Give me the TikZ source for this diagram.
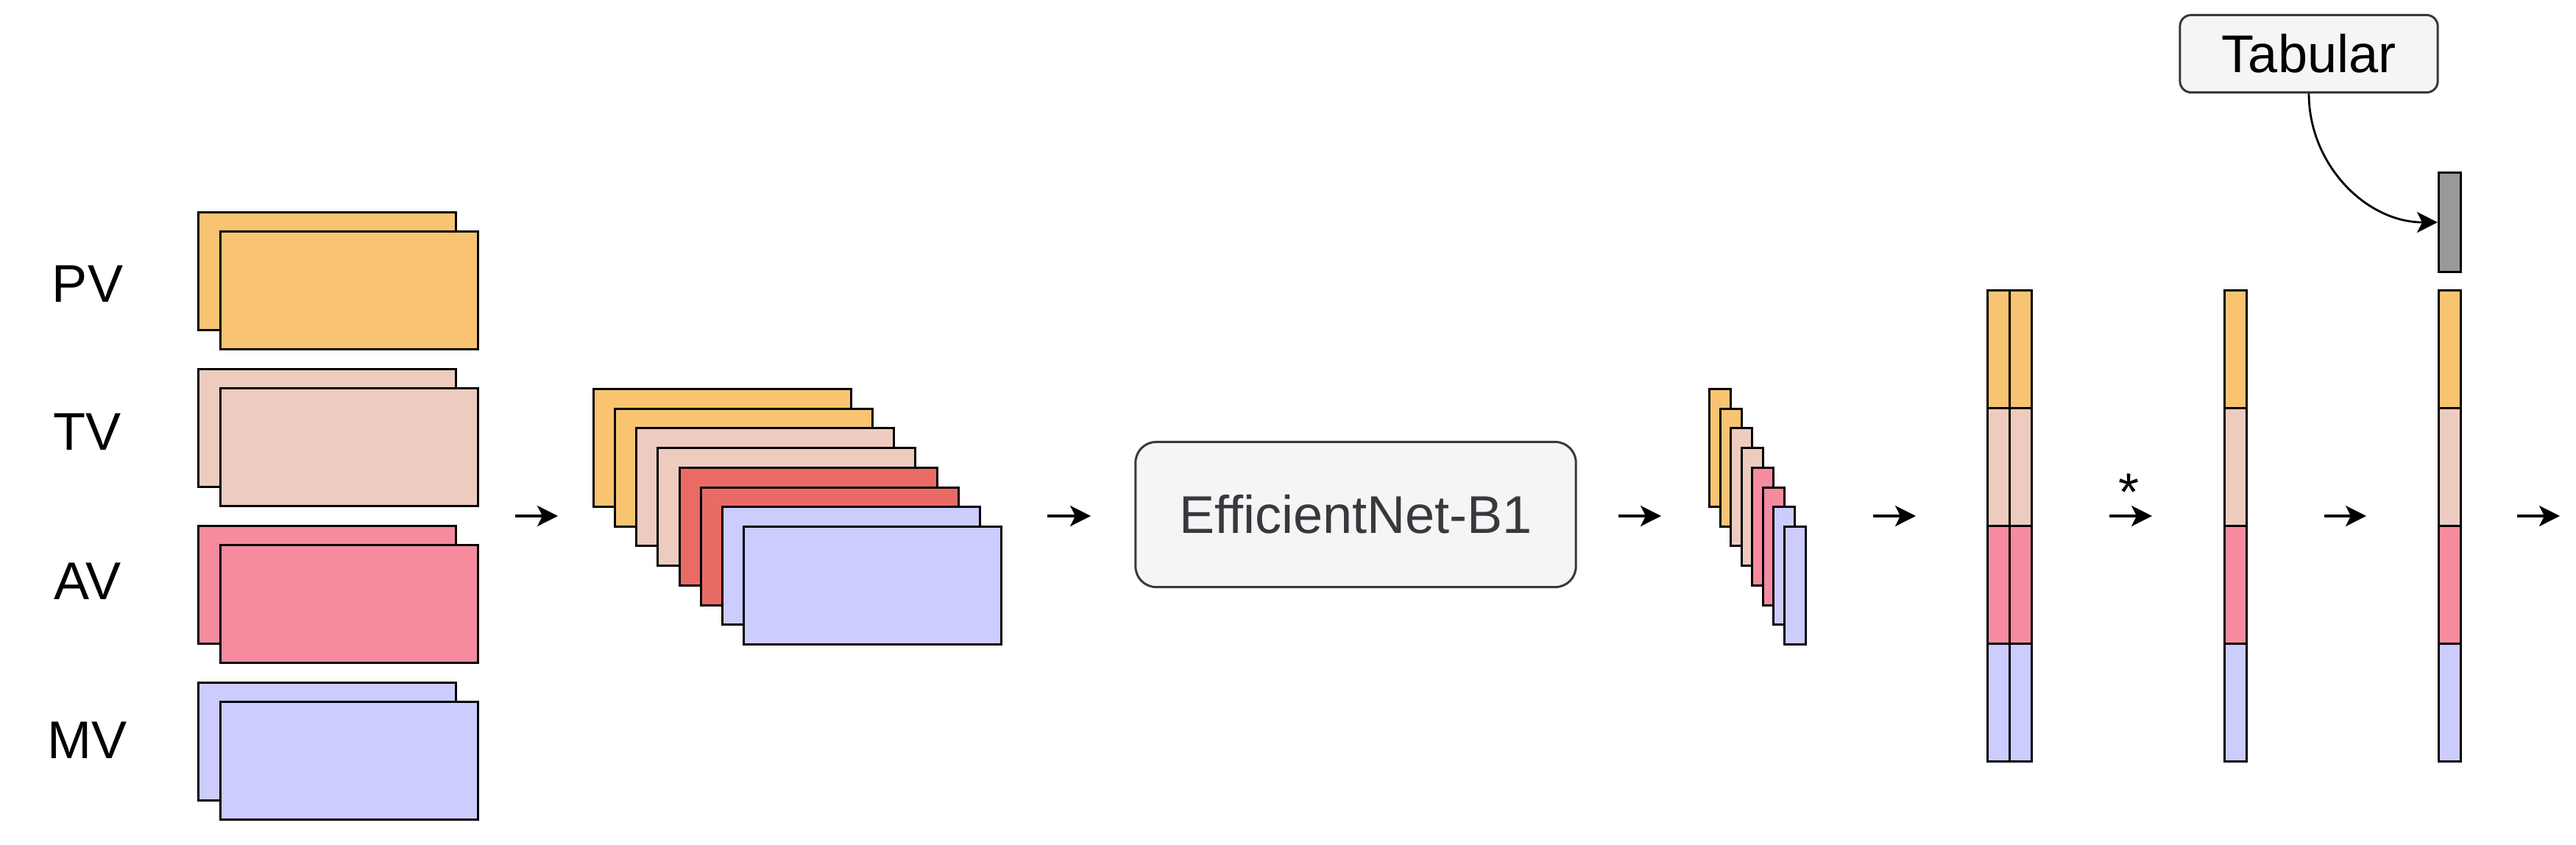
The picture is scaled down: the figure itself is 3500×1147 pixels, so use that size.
\documentclass[tikz,border=0pt]{standalone}
\usepackage{fontspec}
\setmainfont{Liberation Sans}
\usetikzlibrary{arrows.meta}

\definecolor{viewOrange}{HTML}{F8C471}
\definecolor{viewPeach}{HTML}{EDCCBF}
\definecolor{viewPink}{HTML}{F68BA0}
\definecolor{viewRed}{HTML}{EA6B66}
\definecolor{viewBlue}{HTML}{CCCCFF}
\definecolor{tabGray}{HTML}{999999}
\definecolor{boxFill}{HTML}{F5F5F5}
\definecolor{boxLine}{HTML}{36393D}

\begin{document}
\begin{tikzpicture}[
    x=0.01cm, y=-0.01cm,
    viewname/.style={font=\fontsize{20.5}{24}\selectfont, inner sep=0pt},
    view/.style={rectangle, draw, line width=0.85pt, anchor=north west, inner sep=0pt, minimum width=3.5cm, minimum height=1.6cm},
    feat/.style={view, minimum width=0.29cm},
    cell/.style={view, minimum width=0.3cm},
    block/.style={rectangle, draw=boxLine, fill=boxFill, line width=0.85pt, font=\fontsize{20.5}{24}\selectfont},
    arrow/.style={-{Stealth[length=0.28cm, width=0.28cm, inset=0.07cm]}, line width=1pt}
]
\useasboundingbox (0,0) rectangle (3500,1147);

% input views
\node[view, fill=viewOrange] (pv1) at (268,287) {};
\node[view, fill=viewOrange] (pv2) at (298,313) {};
\node[view, fill=viewPeach] (tv1) at (268,500) {};
\node[view, fill=viewPeach] (tv2) at (298,526) {};
\node[view, fill=viewPink] (av1) at (268,713) {};
\node[view, fill=viewPink] (av2) at (298,739) {};
\node[view, fill=viewBlue] (mv1) at (268,926) {};
\node[view, fill=viewBlue] (mv2) at (298,952) {};

\node[viewname] (pvname) at (119,386) {PV};
\node[viewname] (tvname) at (119,587) {TV};
\node[viewname] (avname) at (119,790) {AV};
\node[viewname] (mvname) at (119,1006) {MV};

% stacked input
\node[view, fill=viewOrange] (stk1) at (805,527) {};
\node[view, fill=viewOrange] (stk2) at (834,554) {};
\node[view, fill=viewPeach] (stk3) at (863,580) {};
\node[view, fill=viewPeach] (stk4) at (892,607) {};
\node[view, fill=viewRed] (stk5) at (922,634) {};
\node[view, fill=viewRed] (stk6) at (951,661) {};
\node[view, fill=viewBlue] (stk7) at (980,687) {};
\node[view, fill=viewBlue] (stk8) at (1009,714) {};

% backbone
\node[block, rounded corners=0.28cm, minimum width=5.98cm, minimum height=1.97cm, text=boxLine] (effnet) at (1842,699) {EfficientNet-B1};

% feature maps
\node[feat, fill=viewOrange] (fm1) at (2321,527) {};
\node[feat, fill=viewOrange] (fm2) at (2336,554) {};
\node[feat, fill=viewPeach] (fm3) at (2350,580) {};
\node[feat, fill=viewPeach] (fm4) at (2365,607) {};
\node[feat, fill=viewPink] (fm5) at (2379,634) {};
\node[feat, fill=viewPink] (fm6) at (2394,661) {};
\node[feat, fill=viewBlue] (fm7) at (2408,687) {};
\node[feat, fill=viewBlue] (fm8) at (2423,714) {};

% pooled vectors
\node[cell, fill=viewOrange] (vecA1) at (2699,393) {};
\node[cell, fill=viewPeach] (vecA2) at (2699,553) {};
\node[cell, fill=viewPink] (vecA3) at (2699,713) {};
\node[cell, fill=viewBlue] (vecA4) at (2699,873) {};
\node[cell, fill=viewOrange] (vecB1) at (2729,393) {};
\node[cell, fill=viewPeach] (vecB2) at (2729,553) {};
\node[cell, fill=viewPink] (vecB3) at (2729,713) {};
\node[cell, fill=viewBlue] (vecB4) at (2729,873) {};

% combined vector
\node[cell, fill=viewOrange] (comb1) at (3021,393) {};
\node[cell, fill=viewPeach] (comb2) at (3021,553) {};
\node[cell, fill=viewPink] (comb3) at (3021,713) {};
\node[cell, fill=viewBlue] (comb4) at (3021,873) {};

% fused vector with tabular part
\node[cell, fill=tabGray, minimum height=1.35cm] (tabvec) at (3312,233) {};
\node[cell, fill=viewOrange] (fuse1) at (3312,393) {};
\node[cell, fill=viewPeach] (fuse2) at (3312,553) {};
\node[cell, fill=viewPink] (fuse3) at (3312,713) {};
\node[cell, fill=viewBlue] (fuse4) at (3312,873) {};

\node[block, rounded corners=0.15cm, minimum width=3.5cm, minimum height=1.05cm] (tabular) at (3137,73) {Tabular};

\node[viewname, anchor=base] (star) at (2892,693) {*};

% flow arrows
\coordinate (go1) at (700,701);  \coordinate (to1) at (758,701);
\coordinate (go2) at (1423,701); \coordinate (to2) at (1482,701);
\coordinate (go3) at (2199,701); \coordinate (to3) at (2257,701);
\coordinate (go4) at (2545,701); \coordinate (to4) at (2603,701);
\coordinate (go5) at (2866,701); \coordinate (to5) at (2924,701);
\coordinate (go6) at (3158,701); \coordinate (to6) at (3215,701);
\coordinate (go7) at (3420,701); \coordinate (to7) at (3478,701);

\draw[arrow] (go1) -- (to1);
\draw[arrow] (go2) -- (to2);
\draw[arrow] (go3) -- (to3);
\draw[arrow] (go4) -- (to4);
\draw[arrow] (go5) -- (to5);
\draw[arrow] (go6) -- (to6);
\draw[arrow] (go7) -- (to7);

\draw[arrow, line width=0.8pt] (tabular.south) to[out=-90, in=180] (tabvec.west);

\end{tikzpicture}
\end{document}
